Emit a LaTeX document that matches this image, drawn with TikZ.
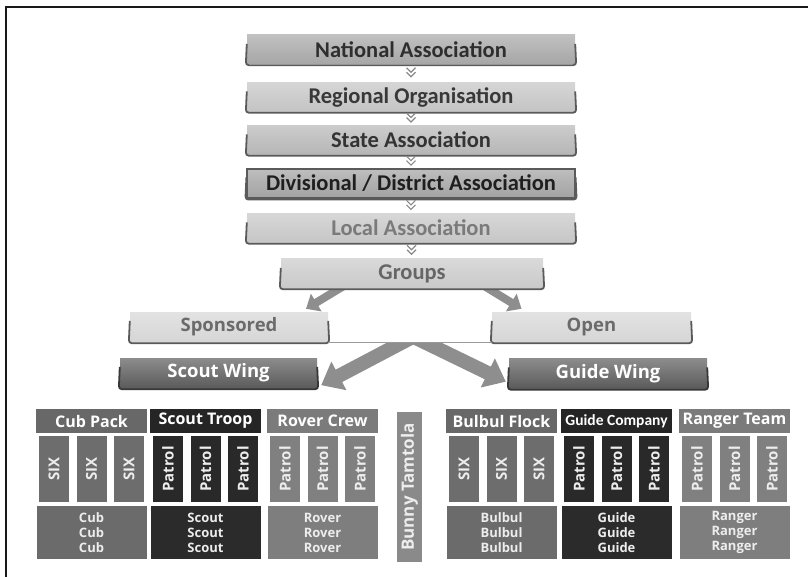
\documentclass[tikz,border=0pt]{standalone}
\usepackage{fontspec}
\setmainfont{Carlito}
\newfontfamily\osans{Open Sans}
\usetikzlibrary{arrows.meta,calc,backgrounds}
\definecolor{natC}{HTML}{A6A6A6}
\definecolor{regC}{HTML}{C4C4C4}
\definecolor{staC}{HTML}{B6B6B6}
\definecolor{divC}{HTML}{A2A2A2}
\definecolor{locC}{HTML}{C6C6C6}
\definecolor{grpC}{HTML}{C9C9C9}
\definecolor{spoC}{HTML}{D6D6D6}
\definecolor{wingC}{HTML}{5B5B5B}
\definecolor{edgeC}{HTML}{5A5A5A}
\definecolor{edgeD}{HTML}{383838}
\definecolor{arrC}{HTML}{8E8E8E}
\definecolor{chevC}{HTML}{8A8A8A}
\definecolor{cubH}{HTML}{686868}
\definecolor{cubC}{HTML}{6D6D6D}
\definecolor{cubB}{HTML}{6B6B6B}
\definecolor{scoH}{HTML}{252525}
\definecolor{scoC}{HTML}{292929}
\definecolor{scoB}{HTML}{2B2B2B}
\definecolor{rovH}{HTML}{7B7B7B}
\definecolor{rovC}{HTML}{808080}
\definecolor{rovB}{HTML}{7E7E7E}
\definecolor{bunC}{HTML}{8A8A8A}
\definecolor{txtL}{HTML}{EDEDED}
\newcommand\ribbonedge[2]{%
  \draw[line width=1.8pt,draw=#2,rounded corners=3pt]
    ($(#1.north west)+(0,9)$) -- ($(#1.south west)+(-1,1)$) --
    ($(#1.south east)+(1,1)$) -- ($(#1.north east)+(0,9)$);}
\newcommand\chevs[2]{%
  \coordinate (#1to#2) at ($(#1.south)!0.5!(#2.north)$);
  \draw[chevst] ($(#1to#2)+(-4.5,-5.5)$) -- ++(4.5,4.5) -- ++(4.5,-4.5);
  \draw[chevst] ($(#1to#2)+(-4.5,-1)$) -- ++(4.5,4.5) -- ++(4.5,-4.5);}
\newcommand\unitgrp[9]{%
  \node[hdr, fill=#6, font=#9] (#1h) at (#2+55.5, 421) {#3};
  \foreach \k/\o in {1/18, 2/55.5, 3/93}
    \node[colcell, fill=#7] (#1c\k) at (#2+\o, 469) {#4};
  \node[btm, fill=#8] (#1b) at (#2+55.5, 532.5) {#5\\#5\\#5};}
\begin{document}
\begin{tikzpicture}[x=1pt,y=-1pt,
  topbox/.style={minimum width=328pt, minimum height=29pt, inner sep=0pt,
    top color=#1!70!white, bottom color=#1,
    font=\bfseries\fontsize{22.5}{24}\selectfont},
  midbox/.style={minimum height=30pt, inner sep=0pt,
    top color=#1!70!white, bottom color=#1,
    font=\osans\bfseries\fontsize{18.5}{20}\selectfont},
  chevst/.style={draw=chevC, line width=1.1pt},
  smallarr/.style={draw=arrC, line width=8pt, -{Triangle[width=20pt,length=12pt]}},
  bigarr/.style={draw=arrC, line width=14pt, -{Triangle[width=31pt,length=20pt]}},
  hdr/.style={minimum width=111pt, minimum height=24pt, inner sep=0pt, text=white},
  colcell/.style={rotate=90, minimum width=66pt, minimum height=30pt, inner sep=0pt,
    text=txtL, font=\osans\bfseries\fontsize{15}{15}\selectfont},
  btm/.style={minimum width=110pt, minimum height=53pt, inner sep=0pt, align=center,
    text=txtL, font=\osans\bfseries\fontsize{13}{15}\selectfont}]
\useasboundingbox (0,0) rectangle (808,577);
\draw[line width=2pt, draw=black!90] (6,577) -- (6,7) -- (808,7);

% hierarchy
\node[topbox=natC, text=black!82] (nat) at (411,49.5) {National Association};
\node[topbox=regC, text=black!78] (reg) at (411,97) {Regional Organisation};
\node[topbox=staC, text=black!80] (sta) at (411,140) {State Association};
\node[topbox=divC, text=black!88, draw=edgeC, line width=1.2pt] (div) at (411,183.5) {Divisional / District Association};
\node[topbox=locC, text=black!52] (loc) at (411,228) {Local Association};
\node[topbox=grpC, text=black!60, minimum width=262pt] (grp) at (412,273.5) {Groups};
\foreach \b in {nat,reg,sta,div,loc,grp} {\ribbonedge{\b}{edgeC}}
\chevs{nat}{reg}
\chevs{reg}{sta}
\chevs{sta}{div}
\chevs{div}{loc}
\chevs{loc}{grp}

\node[midbox=spoC, text=black!58, minimum width=198pt] (spo) at (229,327) {Sponsored};
\node[midbox=spoC, text=black!58, minimum width=199pt] (opn) at (591.5,327) {Open};
\ribbonedge{spo}{edgeC}
\ribbonedge{opn}{edgeC}
\node[midbox=wingC, text=white, minimum width=197pt] (swg) at (218.5,373) {Scout Wing};
\node[midbox=wingC, text=white, minimum width=198pt] (gwg) at (608,373.5) {Guide Wing};
\ribbonedge{swg}{edgeD}
\ribbonedge{gwg}{edgeD}

\draw[draw=black!40, line width=0.8pt] (spo.south east) -- (opn.south west);
\coordinate (fork) at ($(spo.south east)!0.5!(opn.south west)$);

\begin{pgfonlayer}{background}
  \draw[smallarr] ($(grp.south)+(-62,-6)$) -- ($(spo.north)+(77,-3)$);
  \draw[smallarr] ($(grp.south)+(66,-6)$) -- ($(opn.north)+(-70,-3)$);
  \begin{scope}
    \clip (0,342) rectangle (808,577);
    \draw[bigarr] ($(fork)+(8,-8)$) -- ($(swg.south east)+(4,-3)$);
    \draw[bigarr] ($(fork)+(-2,-8)$) -- ($(gwg.south west)+(-3,-7)$);
  \end{scope}
\end{pgfonlayer}

% units
\unitgrp{cub}{36}{Cub Pack}{SIX}{Cub}{cubH}{cubC}{cubB}{\osans\bfseries\fontsize{16}{17}\selectfont}
\unitgrp{sco}{150}{Scout Troop}{Patrol}{Scout}{scoH}{scoC}{scoB}{\osans\bfseries\fontsize{16}{17}\selectfont}
\unitgrp{rov}{267}{Rover Crew}{Patrol}{Rover}{rovH}{rovC}{rovB}{\osans\bfseries\fontsize{16}{17}\selectfont}
\node[rotate=90, minimum width=150pt, minimum height=25pt, inner sep=0pt, fill=bunC,
  text=txtL, font=\osans\bfseries\fontsize{17}{17}\selectfont] (bun) at (409.5,487) {Bunny Tamtola};
\unitgrp{bul}{446}{Bulbul Flock}{SIX}{Bulbul}{cubH}{cubC}{cubB}{\osans\bfseries\fontsize{16}{17}\selectfont}
\unitgrp{gui}{561}{Guide Company}{Patrol}{Guide}{scoH}{scoC}{scoB}{\bfseries\fontsize{15.5}{17}\selectfont}
\unitgrp{ran}{679}{Ranger Team}{Patrol}{Ranger}{rovH}{rovC}{rovB}{\osans\bfseries\fontsize{16}{17}\selectfont}
\end{tikzpicture}
\end{document}
